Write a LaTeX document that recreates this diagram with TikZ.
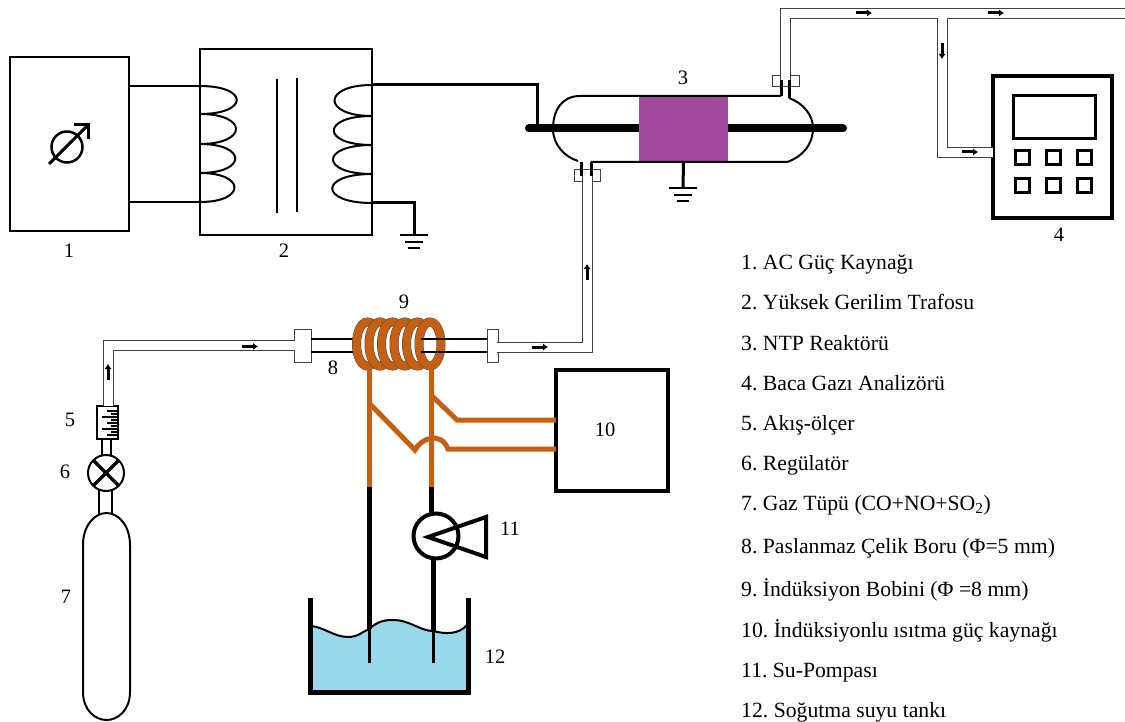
\documentclass[tikz,border=0pt]{standalone}
\usepackage{fontspec}
\setmainfont{Liberation Serif}
\usetikzlibrary{arrows.meta,shapes.geometric}
\definecolor{coilbrown}{HTML}{C55F12}
\definecolor{plasma}{HTML}{A24A9E}
\definecolor{water}{HTML}{99D9EA}
\tikzset{
  wire/.style={line width=2pt},
  hvwire/.style={line width=3pt},
  copper/.style={line width=5pt, draw=coilbrown},
  pipe/.style={draw=black!75, line width=1pt, double=white, double distance=9pt},
  flange/.style={draw=black!75, fill=white, line width=1pt, inner sep=0, outer sep=0},
  flow/.style={line width=3pt, -{Latex[length=5pt,width=7.5pt]}},
  unit/.style={draw, line width=2pt, inner sep=0, outer sep=0},
  keybtn/.style={draw, line width=3pt, inner sep=0, outer sep=0, minimum size=14pt},
  ring/.style={ellipse, draw=black!70, fill=white, line width=.5pt, double=coilbrown, double distance=8pt, inner sep=0, minimum width=22pt, minimum height=44pt},
  lab/.style={font=\fontsize{20.5}{22}\selectfont},
  item/.style={anchor=base west, inner sep=0, font=\fontsize{21.7}{23}\selectfont\frenchspacing}
}
\begin{document}
\begin{tikzpicture}[x=1pt, y=-1pt]
\useasboundingbox (0,0) rectangle (1125,722);
% source and transformer
\node[unit, minimum width=119pt, minimum height=174pt] (src) at (69.5,144) {};
\node[unit, minimum width=172pt, minimum height=186pt] (trafo) at (286,142) {};
\node[circle, draw, line width=2.5pt, minimum size=31pt, inner sep=0] (gauge) at (67,147) {};
\draw[line width=3pt, -{Straight Barb[length=10pt,width=20pt]}] (49,164) -- (90,123);
\coordinate (p1) at (trafo.west |- 0,86);
\coordinate (p5) at (trafo.west |- 0,202);
\coordinate (s1) at (trafo.east |- 0,85);
\coordinate (s5) at (trafo.east |- 0,203);
\draw[wire] (src.east |- p1) -- (p1);
\draw[wire] (src.east |- p5) -- (p5);
\draw[wire] (p1) .. controls (249,86) and (249,114) .. (200,114)
  .. controls (248,114) and (248,144) .. (200,144)
  .. controls (247,144) and (247,173) .. (200,173)
  .. controls (246,173) and (246,202) .. (p5);
\draw[wire] (s1) .. controls (322,85) and (322,116) .. (372,116)
  .. controls (321,116) and (321,145) .. (372,145)
  .. controls (320,145) and (320,174) .. (372,174)
  .. controls (319,174) and (319,203) .. (s5);
\draw[line width=2.5pt] (277,79) -- (277,213);
\draw[line width=2.5pt] (297,78) -- (297,212);
\coordinate (gnd1) at (414,235);
\draw[hvwire, line join=miter] (s5) -| (gnd1);
\draw[wire] (gnd1) ++(-14,0) -- ++(28,0);
\draw[wire] (gnd1) ++(-9,7) -- ++(18,0);
\draw[wire] (gnd1) ++(-6,13) -- ++(12,0);
% reactor
\coordinate (elecL) at (529,128.5);
\coordinate (elecR) at (843,128.5);
\draw[line width=8pt, line cap=round] (elecL) -- (elecR);
\node[fill=plasma, inner sep=0, outer sep=0, minimum width=89pt, minimum height=66pt] (plasma) at (683.5,129) {};
\draw[hvwire] (s1) -| (elecL -| 537,128);
\draw[wire] (781,96) -- (580,96) .. controls (562,96) and (553,110) .. (553,129)
  .. controls (553,145) and (565,157) .. (578,161);
\draw[wire] (789,98) .. controls (803,103) and (813,115) .. (813,128)
  .. controls (813,145) and (802,157) .. (787,162) -- (591,162);
\coordinate (gnd2) at (683,188);
\draw[hvwire] (plasma.south) -- (gnd2);
\draw[wire] (gnd2) ++(-14,0) -- ++(28,0);
\draw[wire] (gnd2) ++(-9,7) -- ++(18,0);
\draw[wire] (gnd2) ++(-6,13) -- ++(12,0);
% analyzer and outlet line
\node[flange, minimum width=27pt, minimum height=11pt] (fl3) at (785.5,81.5) {};
\node[flange, minimum width=26pt, minimum height=12pt] (fl2) at (587,176) {};
\coordinate (outend) at (1125,13.5);
\coordinate (tee) at (942,13.5);
\node[unit, line width=3.5pt, minimum width=119pt, minimum height=142pt] (ana) at (1052.5,147) {};
\draw[pipe] (tee) |- (ana.west |- 0,152.5);
\draw[pipe] (fl3.center) |- (outend);
\draw[white, line width=9pt] (tee) -- ++(0,8);
\draw[line width=3pt] (781,80) -- (781,96);
\draw[line width=3pt] (789,80) -- (789,98);
\node[unit, line width=3pt, minimum width=82pt, minimum height=43pt] (screen) at (1054,117.5) {};
\node[keybtn] (btn1) at (1022.5,158) {};
\node[keybtn] (btn2) at (1053.5,158) {};
\node[keybtn] (btn3) at (1084.5,158) {};
\node[keybtn] (btn4) at (1022.5,186) {};
\node[keybtn] (btn5) at (1053.5,186) {};
\node[keybtn] (btn6) at (1084.5,186) {};
\draw[flow] (856,13) -- ++(16,0);
\draw[flow] (988,13) -- ++(16,0);
\draw[flow] (942,43) -- ++(0,16);
\draw[flow] (962,152) -- ++(16,0);
% gas line
\node[flange, minimum width=17pt, minimum height=33pt] (fl8) at (302.5,345.5) {};
\node[flange, minimum width=11pt, minimum height=33pt] (fl9) at (492.5,345.5) {};
\coordinate (corner1) at (108,347);
\node[unit, minimum width=21pt, minimum height=33pt] (meter) at (107.5,422.5) {};
\draw[pipe] (meter.north -| corner1) |- (fl8.center -| 295,347);
\draw[pipe] (fl9.east) ++(-1,1.5) -| (fl2.center);
\draw[white, line width=9pt] (587,170) -- (587,182);
\draw[line width=3pt] (581.5,162) -- (581.5,176);
\draw[line width=3pt] (591,162) -- (591,176);
\draw[white, line width=9pt] (fl8.center) -- (fl8.east);
\draw[line width=1.5pt] (fl8.east |- 0,339) -- (353,339);
\draw[line width=1.5pt] (fl8.east |- 0,352) -- (353,352);
\draw[flow] (242,346.5) -- ++(16,0);
\draw[flow] (532,347) -- ++(16,0);
\draw[flow] (587,280) -- ++(0,-16);
\draw[flow] (108,380) -- ++(0,-16);
\draw[line width=1.5pt] (107,411) -- (118,411) (111,414) -- (118,414) (102,417) -- (118,417)
  (111,420) -- (118,420) (107,423) -- (118,423) (111,426) -- (118,426)
  (102,429) -- (118,429) (111,432) -- (118,432) (107,435) -- (118,435);
% valve and cylinder
\node[circle, draw, line width=2pt, minimum size=36pt, inner sep=0, outer sep=0] (valve) at (106,473) {};
\draw[line width=3.5pt] (valve.45) -- (valve.225);
\draw[line width=3.5pt] (valve.135) -- (valve.315);
\draw[wire] (102,439) -- (102,456);
\draw[wire] (111,439) -- (111,456);
\draw[wire] (99,490) -- (99,514);
\draw[wire] (112,490) -- (112,514);
\coordinate (cylL) at (83,545);
\coordinate (cylR) at (130,545);
\draw[wire] (cylL) .. controls (83,525) and (95,513) .. (106.5,513)
  .. controls (118,513) and (130,525) .. (cylR) -- (130,692)
  .. controls (130,710) and (118,720) .. (106.5,720)
  .. controls (95,720) and (83,710) .. (83,692) -- cycle;
% induction coil
\node[ring] (ring1) at (367.5,344) {};
\node[ring] (ring2) at (380,344) {};
\node[ring] (ring3) at (392.5,344) {};
\node[ring] (ring4) at (405,344) {};
\node[ring] (ring5) at (417.5,344) {};
\node[ring] (ring6) at (430,344) {};
\draw[line width=1.5pt] (421,339) -- (fl9.west |- 0,339);
\draw[line width=1.5pt] (421,352) -- (fl9.west |- 0,352);
% heater and leads
\node[unit, line width=4.5pt, minimum width=112pt, minimum height=121pt] (heater) at (612,430.5) {};
\coordinate (leadA) at (369,487);
\coordinate (leadB) at (431,487);
\draw[copper] (369,370) -- (leadA);
\draw[copper] (431,370) -- (leadB);
\draw[copper] (369,403) -- (415,450) .. controls (421,438) and (441,431) .. (448,449) -- (heater.west |- 0,449);
\draw[copper] (431,395) -- (457,420) -- (heater.west |- 0,420);
% pump
\node[circle, draw, line width=4pt, minimum size=45pt, inner sep=0, outer sep=0] (pump) at (436,536) {};
\draw[line width=4pt, line join=miter] (428,537) -- (486,517) -- (486,557) -- cycle;
\draw[line width=5pt] (leadB) -- (leadB |- pump.north);
% tank
\path[fill=water] (312,626) .. controls (325,628) and (335,637) .. (348,637)
  .. controls (358,637) and (362,632) .. (369,629)
  .. controls (378,621) and (385,620) .. (393,620)
  .. controls (410,620) and (420,631) .. (433,631)
  .. controls (445,634) and (458,635) .. (467,625) -- (467,694) -- (312,694) -- cycle;
\draw[line width=2pt] (312,626) .. controls (325,628) and (335,637) .. (348,637)
  .. controls (358,637) and (362,632) .. (369,629)
  .. controls (378,621) and (385,620) .. (393,620)
  .. controls (410,620) and (420,631) .. (433,631)
  .. controls (445,634) and (458,635) .. (467,625);
\draw[line width=5pt, line join=miter] (310,598) -- (310,692) -- (468,692) -- (468,598);
\coordinate (tankA) at (369,629);
\coordinate (tankB) at (433,631);
\draw[line width=5pt] (leadA) -- (tankA);
\draw[line width=5pt] (pump.south -| tankB) -- (tankB);
\draw[line width=3pt] (tankA) -- (369,663);
\draw[line width=3pt] (tankB) -- (433,663);
% numbers
\node[lab] (lab1) at (69,251) {1};
\node[lab] (lab2) at (284,251) {2};
\node[lab] (lab3) at (683,78) {3};
\node[lab] (lab4) at (1059,235) {4};
\node[lab] (lab5) at (70,420) {5};
\node[lab] (lab6) at (65,472) {6};
\node[lab] (lab7) at (66,597) {7};
\node[lab] (lab8) at (333,368) {8};
\node[lab] (lab9) at (404,302) {9};
\node[lab] (lab10) at (605,430) {10};
\node[lab] (lab11) at (510,529) {11};
\node[lab] (lab12) at (495,657) {12};
% legend
\node[item] (item1) at (741,270) {1. AC Güç Kaynağı};
\node[item] (item2) at (741,309.5) {2. Yüksek Gerilim Trafosu};
\node[item] (item3) at (741,350) {3. NTP Reaktörü};
\node[item] (item4) at (741,390) {4. Baca Gazı Analizörü};
\node[item] (item5) at (741,430) {5. Akış-ölçer};
\node[item] (item6) at (741,470) {6. Regülatör};
\node[item] (item7) at (741,510) {7. Gaz Tüpü (CO+NO+SO\textsubscript{2})};
\node[item] (item8) at (741,553) {8. Paslanmaz Çelik Boru (Φ=5 mm)};
\node[item] (item9) at (741,596) {9. İndüksiyon Bobini (Φ =8 mm)};
\node[item] (item10) at (741,637) {10. İndüksiyonlu ısıtma güç kaynağı};
\node[item] (item11) at (741,677) {11. Su-Pompası};
\node[item] (item12) at (741,717) {12. Soğutma suyu tankı};
\end{tikzpicture}
\end{document}
